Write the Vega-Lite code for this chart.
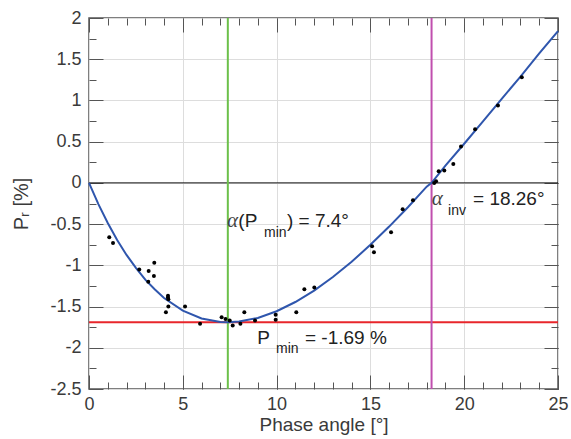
{
  "$schema": "https://vega.github.io/schema/vega-lite/v6.json",
  "width": 469,
  "height": 371,
  "autosize": {"type": "none"},
  "padding": {"left": 89, "top": 18, "right": 13, "bottom": 50},
  "background": "white",
  "config": {
    "view": {"stroke": "#555555", "strokeWidth": 1.5},
    "axis": {
      "labelFont": "Liberation Sans",
      "titleFont": "Liberation Sans",
      "labelFontSize": 18,
      "titleFontSize": 19,
      "titleFontWeight": "normal",
      "labelColor": "#3a3a3a",
      "titleColor": "#3a3a3a",
      "tickColor": "#555555",
      "tickWidth": 1,
      "domain": false,
      "labelFlush": false,
      "gridColor": "#dddddd",
      "gridWidth": 1
    }
  },
  "datasets": {
    "pts": [
      {"a": 1.08, "p": -0.66}, {"a": 1.28, "p": -0.73}, {"a": 2.68, "p": -1.05}, {"a": 3.18, "p": -1.07},
      {"a": 3.16, "p": -1.20}, {"a": 3.46, "p": -1.13}, {"a": 3.48, "p": -0.97}, {"a": 4.21, "p": -1.37},
      {"a": 4.21, "p": -1.39}, {"a": 4.23, "p": -1.41}, {"a": 4.23, "p": -1.50}, {"a": 4.10, "p": -1.57},
      {"a": 5.12, "p": -1.50}, {"a": 5.92, "p": -1.71}, {"a": 7.07, "p": -1.63}, {"a": 7.28, "p": -1.65},
      {"a": 7.50, "p": -1.67}, {"a": 7.66, "p": -1.73}, {"a": 8.07, "p": -1.71}, {"a": 8.28, "p": -1.57},
      {"a": 8.85, "p": -1.67}, {"a": 9.95, "p": -1.60}, {"a": 9.95, "p": -1.66}, {"a": 11.05, "p": -1.57},
      {"a": 11.48, "p": -1.29}, {"a": 12.01, "p": -1.27}, {"a": 15.09, "p": -0.77}, {"a": 15.19, "p": -0.84},
      {"a": 16.10, "p": -0.60}, {"a": 16.72, "p": -0.32}, {"a": 17.27, "p": -0.21}, {"a": 18.40, "p": 0.00},
      {"a": 18.50, "p": 0.02}, {"a": 18.64, "p": 0.14}, {"a": 18.94, "p": 0.15}, {"a": 19.42, "p": 0.23},
      {"a": 19.83, "p": 0.44}, {"a": 20.58, "p": 0.65}, {"a": 21.80, "p": 0.94}, {"a": 23.07, "p": 1.28}
    ],
    "curve": [
      {"a": 0, "p": 0}, {"a": 0.5, "p": -0.257}, {"a": 1, "p": -0.487}, {"a": 1.5, "p": -0.692},
      {"a": 2, "p": -0.874}, {"a": 2.5, "p": -1.03}, {"a": 3, "p": -1.174}, {"a": 3.5, "p": -1.29},
      {"a": 4, "p": -1.396}, {"a": 5, "p": -1.549}, {"a": 6, "p": -1.644}, {"a": 7, "p": -1.687},
      {"a": 7.4, "p": -1.69}, {"a": 8, "p": -1.682}, {"a": 9, "p": -1.638}, {"a": 10, "p": -1.557},
      {"a": 11, "p": -1.445}, {"a": 12, "p": -1.306}, {"a": 13, "p": -1.141}, {"a": 14, "p": -0.957},
      {"a": 15, "p": -0.751}, {"a": 16, "p": -0.530}, {"a": 17, "p": -0.295}, {"a": 18, "p": -0.046},
      {"a": 18.26, "p": 0}, {"a": 19, "p": 0.21}, {"a": 20, "p": 0.475}, {"a": 21, "p": 0.745},
      {"a": 22, "p": 1.02}, {"a": 23, "p": 1.29}, {"a": 24, "p": 1.57}, {"a": 25, "p": 1.84}
    ],
    "labels": [
      {"a": 7.36, "p": -0.533, "t": "α", "k": "greek"},
      {"a": 7.96, "p": -0.533, "t": "(P", "k": "main"},
      {"a": 9.33, "p": -0.658, "t": "min", "k": "sub"},
      {"a": 10.55, "p": -0.533, "t": ") = 7.4°", "k": "main"},
      {"a": 18.27, "p": -0.269, "t": "α", "k": "greek"},
      {"a": 19.14, "p": -0.391, "t": "inv", "k": "sub"},
      {"a": 20.47, "p": -0.269, "t": "= 18.26°", "k": "main"},
      {"a": 8.97, "p": -1.956, "t": "P", "k": "main"},
      {"a": 9.97, "p": -2.069, "t": "min", "k": "sub"},
      {"a": 11.51, "p": -1.956, "t": "= -1.69 %", "k": "main"}
    ]
  },
  "layer": [
    {
      "data": {"values": [{"p": 0}]},
      "mark": {"type": "rule", "color": "#111111", "strokeWidth": 1},
      "encoding": {
        "y": {"field": "p", "type": "quantitative", "scale": {"domain": [-2.5, 2], "nice": false, "zero": false},
          "axis": {"orient": "right", "values": [-2.5, -2.25, -2, -1.75, -1.5, -1.25, -1, -0.75, -0.5, -0.25, 0, 0.25, 0.5, 0.75, 1, 1.25, 1.5, 1.75, 2], "tickSize": -7, "labels": false, "grid": false, "title": null}}
      }
    },
    {
      "data": {"values": [{"p": -1.69}]},
      "mark": {"type": "rule", "color": "#e8262b", "strokeWidth": 2},
      "encoding": {
        "y": {"field": "p", "type": "quantitative",
          "axis": {"orient": "right", "values": [-2.5, -2, -1.5, -1, -0.5, 0, 0.5, 1, 1.5, 2], "tickSize": -14, "labels": false, "grid": false, "title": null}}
      }
    },
    {
      "data": {"values": [{"a": 7.4, "c": "min"}, {"a": 18.26, "c": "inv"}]},
      "mark": {"type": "rule", "strokeWidth": 2},
      "encoding": {
        "x": {"field": "a", "type": "quantitative", "scale": {"domain": [0, 25], "nice": false, "zero": false},
          "axis": {"orient": "top", "values": [0, 5, 10, 15, 20, 25], "tickSize": -14, "labels": false, "grid": false, "title": null}},
        "color": {"field": "c", "type": "nominal", "scale": {"domain": ["min", "inv"], "range": ["#6cc04a", "#c04fae"]}, "legend": null}
      }
    },
    {
      "data": {"name": "curve"},
      "mark": {"type": "line", "color": "#2f56ad", "strokeWidth": 2},
      "encoding": {
        "x": {"field": "a", "type": "quantitative",
          "axis": {"orient": "top", "values": [0,1,2,3,4,5,6,7,8,9,10,11,12,13,14,15,16,17,18,19,20,21,22,23,24,25], "tickSize": -7, "labels": false, "grid": false, "title": null}},
        "y": {"field": "p", "type": "quantitative",
          "axis": {"orient": "left", "values": [-2.5, -2.25, -2, -1.75, -1.5, -1.25, -1, -0.75, -0.5, -0.25, 0, 0.25, 0.5, 0.75, 1, 1.25, 1.5, 1.75, 2], "tickSize": -7, "labels": false, "grid": false, "title": null}}
      }
    },
    {
      "data": {"name": "pts"},
      "mark": {"type": "circle", "color": "#000000", "size": 16, "opacity": 1},
      "encoding": {
        "x": {"field": "a", "type": "quantitative",
          "axis": {"orient": "bottom", "values": [0,1,2,3,4,5,6,7,8,9,10,11,12,13,14,15,16,17,18,19,20,21,22,23,24,25], "tickSize": -7, "labels": false, "grid": false, "title": null}},
        "y": {"field": "p", "type": "quantitative",
          "axis": {"orient": "left", "values": [-2.5, -2, -1.5, -1, -0.5, 0, 0.5, 1, 1.5, 2], "tickSize": -14, "grid": true, "labelPadding": 22, "labelExpr": "toString(datum.value)", "title": "Pᵣ [%]", "titlePadding": 18, "titleFontSize": 20}}
      }
    },
    {
      "data": {"name": "labels"},
      "transform": [{"filter": "datum.k === 'main'"}],
      "mark": {"type": "text", "align": "left", "baseline": "alphabetic", "font": "Liberation Sans", "fontSize": 19, "color": "#222222"},
      "encoding": {
        "x": {"field": "a", "type": "quantitative",
          "axis": {"orient": "bottom", "values": [0, 5, 10, 15, 20, 25], "tickSize": -14, "grid": true, "labelPadding": 20, "labelExpr": "toString(datum.value)", "title": "Phase angle [°]", "titlePadding": 2}},
        "y": {"field": "p", "type": "quantitative", "axis": null},
        "text": {"field": "t"}
      }
    },
    {
      "data": {"name": "labels"},
      "transform": [{"filter": "datum.k === 'sub'"}],
      "mark": {"type": "text", "align": "left", "baseline": "alphabetic", "font": "Liberation Sans", "fontSize": 14, "color": "#222222"},
      "encoding": {
        "x": {"field": "a", "type": "quantitative", "axis": null},
        "y": {"field": "p", "type": "quantitative", "axis": null},
        "text": {"field": "t"}
      }
    },
    {
      "data": {"name": "labels"},
      "transform": [{"filter": "datum.k === 'greek'"}],
      "mark": {"type": "text", "align": "left", "baseline": "alphabetic", "font": "Liberation Serif", "fontStyle": "italic", "fontSize": 21, "color": "#444444"},
      "encoding": {
        "x": {"field": "a", "type": "quantitative", "axis": null},
        "y": {"field": "p", "type": "quantitative", "axis": null},
        "text": {"field": "t"}
      }
    }
  ],
  "resolve": {"axis": {"x": "independent", "y": "independent"}}
}
